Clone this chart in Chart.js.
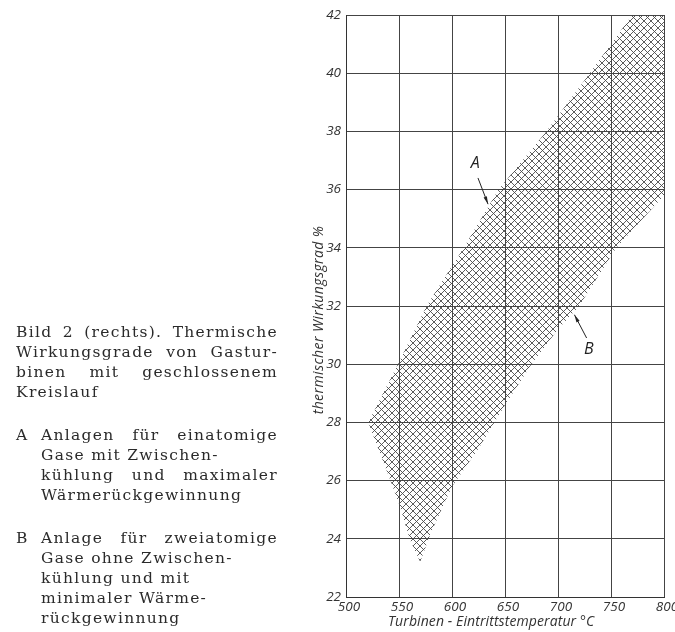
<!DOCTYPE html>
<html>
<head>
<meta charset="utf-8">
<script src="https://cdn.jsdelivr.net/npm/chart.js@4.4.0/dist/chart.umd.min.js"></script>
<style>
    html, body { margin: 0; padding: 0; background: #fff; }
    body { width: 675px; height: 632px; position: relative; overflow: hidden; }
    #chart { position: absolute; left: 0; top: 0; }
    .caption {
        position: absolute; left: 16px; top: 322px; width: 262px;
        font-family: 'DejaVu Serif', serif; font-size: 15.5px; line-height: 20px;
        color: #2a2a2a; letter-spacing: 1.3px;
    }
    .caption div { height: 20px; position: relative; white-space: nowrap; }
    .caption .j { text-align: justify; text-align-last: justify; white-space: normal; }
    .caption .in { padding-left: 25px; }
    .caption .gap { margin-top: 23px; }
    .caption .key { position: absolute; left: 0; top: 0; }
    .axis-title {
        position: absolute; font-family: 'Open Sans', sans-serif; font-style: italic;
        font-size: 14px; line-height: 18px; color: #333; white-space: nowrap; text-align: center;
    }
    #ytitle { left: 218px; top: 311px; width: 200px; transform: rotate(-90deg); letter-spacing: 0.4px; }
    #xtitle { left: 388px; top: 612px; width: 200px; letter-spacing: 0.1px; }
</style>
</head>
<body>
<canvas id="chart" width="675" height="632"></canvas>

<div class="caption">
    <div class="j">Bild 2 (rechts). Thermische</div>
    <div class="j">Wirkungsgrade von Gastur-</div>
    <div class="j">binen mit geschlossenem</div>
    <div>Kreislauf</div>
    <div class="in j gap"><span class="key">A</span>Anlagen für einatomige</div>
    <div class="in">Gase mit Zwischen-</div>
    <div class="in j">kühlung und maximaler</div>
    <div class="in">Wärmerückgewinnung</div>
    <div class="in j gap"><span class="key">B</span>Anlage für zweiatomige</div>
    <div class="in">Gase ohne Zwischen-</div>
    <div class="in">kühlung und mit</div>
    <div class="in">minimaler Wärme-</div>
    <div class="in">rückgewinnung</div>
</div>
<div id="ytitle" class="axis-title">thermischer Wirkungsgrad %</div>
<div id="xtitle" class="axis-title">Turbinen - Eintrittstemperatur °C</div>

<script>
// axis ranges
const tempMin = 500, tempMax = 800, tempStep = 50;
const etaMin = 22, etaMax = 42, etaStep = 2;

// hatched band: upper edge (curve A side), then right/lower edge (curve B side), then the lower left tip
const bandUpperT   = [521, 535, 549, 576, 611, 644, 689, 730, 770, 800];
const bandUpperEta = [28, 29, 30, 32, 34, 36, 38, 40, 42, 42];
const bandLowerT   = [800, 755, 720, 700, 675, 650, 625, 600, 580, 570];
const bandLowerEta = [35.8, 34, 32, 31.2, 30, 28.6, 27.1, 25.8, 24.2, 23.2];
const bandTipT     = [560, 551, 543];
const bandTipEta   = [24, 25.1, 25.9];

// labels A / B and their arrows (tail -> head)
const noteText = ['A', 'B'];
const noteT    = [622, 729];
const noteEta  = [36.9, 30.5];
const arrowFromT   = [624.5, 727];
const arrowFromEta = [36.4, 30.9];
const arrowToT     = [634, 715.5];
const arrowToEta   = [35.5, 31.7];

function toPoints(xs, ys){
    return xs.map((x, i) => ({x: x, y: ys[i]}));
}

function hatch(size, color){
    const c = document.createElement('canvas');
    c.width = size; c.height = size;
    const g = c.getContext('2d');
    g.strokeStyle = color;
    g.lineWidth = 0.9;
    g.beginPath();
    for (const k of [-size, 0, size]) {
        g.moveTo(k, 0); g.lineTo(k + size, size);
        g.moveTo(k, size); g.lineTo(k + size, 0);
    }
    g.stroke();
    return g.createPattern(c, 'repeat');
}

const bandPoints = toPoints(bandUpperT, bandUpperEta)
    .concat(toPoints(bandLowerT, bandLowerEta))
    .concat(toPoints(bandTipT, bandTipEta));

function arrowDataset(i){
    return {
        data: [{x: arrowFromT[i], y: arrowFromEta[i]}, {x: arrowToT[i], y: arrowToEta[i]}],
        isArrow: true,
        borderColor: '#222',
        borderWidth: 1,
        pointRadius: 0,
        fill: false,
        tension: 0
    };
}

const notesPlugin = {
    id: 'notes',
    afterDatasetsDraw(chart){
        const {ctx, scales} = chart;
        // arrow heads along the shafts
        chart.data.datasets.forEach((ds, di) => {
            if (!ds.isArrow) return;
            const pts = chart.getDatasetMeta(di).data;
            const a = pts[0], b = pts[1];
            const ang = Math.atan2(b.y - a.y, b.x - a.x);
            ctx.save();
            ctx.fillStyle = '#222';
            ctx.beginPath();
            ctx.moveTo(b.x, b.y);
            ctx.lineTo(b.x - 8 * Math.cos(ang - 0.22), b.y - 8 * Math.sin(ang - 0.22));
            ctx.lineTo(b.x - 8 * Math.cos(ang + 0.22), b.y - 8 * Math.sin(ang + 0.22));
            ctx.closePath();
            ctx.fill();
            ctx.restore();
        });
        ctx.save();
        ctx.font = 'italic 16px "Open Sans", sans-serif';
        ctx.fillStyle = '#222';
        ctx.textAlign = 'center';
        ctx.textBaseline = 'middle';
        noteText.forEach((t, i) => {
            ctx.fillText(t, scales.x.getPixelForValue(noteT[i]), scales.y.getPixelForValue(noteEta[i]));
        });
        ctx.restore();
    }
};

const tickFont = {family: '"Open Sans", sans-serif', size: 13.5, style: 'italic'};

new Chart(document.getElementById('chart'), {
    type: 'line',
    data: {
        datasets: [
            {
                data: bandPoints,
                borderWidth: 0,
                borderColor: 'rgba(0,0,0,0)',
                backgroundColor: hatch(7, '#4a4a4a'),
                pointRadius: 0,
                fill: 'shape',
                tension: 0
            },
            arrowDataset(0),
            arrowDataset(1)
        ]
    },
    options: {
        responsive: false,
        animation: false,
        events: [],
        layout: {padding: {left: 306, top: 15, right: 11, bottom: 0}},
        plugins: {legend: {display: false}, tooltip: {enabled: false}},
        scales: {
            x: {
                type: 'linear',
                min: tempMin, max: tempMax,
                grid: {color: '#444', lineWidth: 1, drawTicks: false},
                border: {display: true, color: '#333', width: 1},
                ticks: {stepSize: tempStep, autoSkip: false, maxRotation: 0, padding: 2, labelOffset: 3, color: '#333', font: tickFont},
                afterFit(s){ s.height = 35; s.paddingLeft = 0; s.paddingRight = 0; }
            },
            y: {
                min: etaMin, max: etaMax,
                grid: {color: '#444', lineWidth: 1, drawTicks: false},
                border: {display: true, color: '#333', width: 1},
                ticks: {stepSize: etaStep, padding: 5, color: '#333', font: tickFont},
                afterFit(s){ s.width = 40; s.paddingTop = 0; s.paddingBottom = 0; }
            }
        }
    },
    plugins: [notesPlugin]
});
</script>
</body>
</html>
